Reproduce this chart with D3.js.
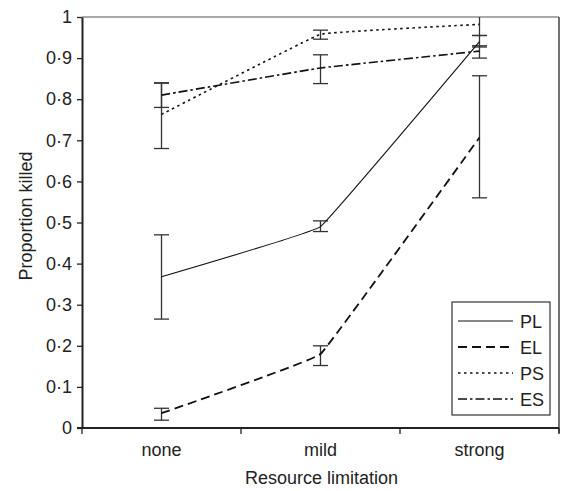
<!DOCTYPE html>
<html>
<head>
<meta charset="utf-8">
<script src="https://cdn.jsdelivr.net/npm/d3@7"></script>
<style>
  body { margin: 0; background: #fff; }
  text { font-family: "Liberation Sans", Arial, sans-serif; fill: #222; }
</style>
</head>
<body>
<script>
// categories and tick labels
const categories = ['none', 'mild', 'strong'];
const yTicks = [0, 0.1, 0.2, 0.3, 0.4, 0.5, 0.6, 0.7, 0.8, 0.9, 1];

// series values (mean, lower, upper)
const seriesNames = ['PL', 'EL', 'PS', 'ES'];
const plValues = [0.368, 0.49, 0.94];
const plLower = [0.265, 0.478, 0.927];
const plUpper = [0.47, 0.504, 0.955];
const elValues = [0.036, 0.18, 0.707];
const elLower = [0.019, 0.152, 0.56];
const elUpper = [0.048, 0.2, 0.857];
const psValues = [0.763, 0.958, 0.982];
const psLower = [0.68, 0.946, 0.955];
const psUpper = [0.839, 0.968, 1.02];
const esValues = [0.81, 0.876, 0.917];
const esLower = [0.78, 0.838, 0.9];
const esUpper = [0.84, 0.908, 0.93];

const width = 564, height = 491;
const margin = {top: 17, right: 5, bottom: 63, left: 82};
const fs = 18;

const svg = d3.select('body').append('svg')
    .attr('width', width)
    .attr('height', height);

const x = d3.scaleBand().domain(categories)
    .range([margin.left, width - margin.right]);
const y = d3.scaleLinear().domain([0, 1])
    .range([height - margin.bottom, margin.top]);

const styles = [
    {dash: null, w: 1.1},
    {dash: '9,5', w: 1.8},
    {dash: '2.5,3.5', w: 1.6},
    {dash: '9,3,2.5,3', w: 1.6}
];
const series = [
    {v: plValues, lo: plLower, hi: plUpper},
    {v: elValues, lo: elLower, hi: elUpper},
    {v: psValues, lo: psLower, hi: psUpper},
    {v: esValues, lo: esLower, hi: esUpper}
].map((s, i) => Object.assign(s, {name: seriesNames[i]}, styles[i]));

const plot = svg.append('g');
svg.append('clipPath').attr('id', 'clip')
    .append('rect')
    .attr('x', margin.left).attr('y', margin.top)
    .attr('width', width - margin.right - margin.left)
    .attr('height', height - margin.bottom - margin.top);

// 上框线 / 右框线
plot.append('line')
    .attr('x1', margin.left).attr('x2', width - margin.right)
    .attr('y1', margin.top).attr('y2', margin.top)
    .attr('stroke', '#555').attr('stroke-width', 1.2);
plot.append('line')
    .attr('x1', width - margin.right).attr('x2', width - margin.right)
    .attr('y1', margin.top).attr('y2', height - margin.bottom + 5)
    .attr('stroke', '#444').attr('stroke-width', 1.5);

const cx = c => x(c) + x.bandwidth() / 2;

// 轻微平滑
const line = d3.line()
    .x((d, i) => cx(categories[i]))
    .y(d => y(d))
    .curve(d3.curveCardinal.tension(0.85));

const marks = plot.append('g').attr('clip-path', 'url(#clip)');

// error bars
series.forEach(s => {
    categories.forEach((c, i) => {
        const g = marks.append('g').attr('stroke', '#333').attr('stroke-width', 1.3);
        g.append('line')
            .attr('x1', cx(c)).attr('x2', cx(c))
            .attr('y1', y(s.lo[i])).attr('y2', y(s.hi[i]));
        [s.lo[i], s.hi[i]].forEach(e => {
            g.append('line')
                .attr('x1', cx(c) - 7.5).attr('x2', cx(c) + 7.5)
                .attr('y1', y(e)).attr('y2', y(e));
        });
    });
});

// lines
series.forEach(s => {
    marks.append('path')
        .datum(s.v)
        .attr('d', line)
        .attr('fill', 'none')
        .attr('stroke', '#111')
        .attr('stroke-width', s.w)
        .attr('stroke-dasharray', s.dash);
});

// y axis
const yAxis = svg.append('g')
    .attr('transform', `translate(${margin.left},0)`)
    .call(d3.axisLeft(y).tickValues(yTicks).tickSize(5).tickSizeOuter(0)
        .tickFormat(d => d === 0 ? '0' : d === 1 ? '1' : d3.format('.1f')(d).replace('.', '·')));
yAxis.select('.domain').attr('stroke', '#222').attr('stroke-width', 2);
yAxis.selectAll('.tick line').attr('stroke', '#222').attr('stroke-width', 1.3);
yAxis.selectAll('.tick text').attr('font-size', fs).attr('x', -10).attr('fill', '#222');

// x axis
const bounds = [margin.left, x('mild'), x('strong'), width - margin.right];
const xAxis = svg.append('g')
    .attr('transform', `translate(0,${height - margin.bottom})`);
xAxis.append('line')
    .attr('x1', margin.left - 5).attr('x2', width - margin.right)
    .attr('stroke', '#222').attr('stroke-width', 2);
xAxis.selectAll('line.tk').data(bounds).enter().append('line')
    .attr('class', 'tk')
    .attr('x1', d => d).attr('x2', d => d)
    .attr('y1', 0).attr('y2', 6)
    .attr('stroke', '#222').attr('stroke-width', 1.3);
xAxis.selectAll('text.lbl').data(categories).enter().append('text')
    .attr('class', 'lbl')
    .attr('x', d => cx(d)).attr('y', 28)
    .attr('text-anchor', 'middle')
    .attr('font-size', fs)
    .text(d => d);

// axis titles
svg.append('text')
    .attr('x', (margin.left + width - margin.right) / 2 + 1)
    .attr('y', 484)
    .attr('text-anchor', 'middle')
    .attr('font-size', fs)
    .text('Resource limitation');
svg.append('text')
    .attr('transform', `translate(32,216) rotate(-90)`)
    .attr('text-anchor', 'middle')
    .attr('font-size', fs)
    .text('Proportion killed');

// legend
const legend = svg.append('g').attr('transform', 'translate(452,302)');
legend.append('rect')
    .attr('width', 98).attr('height', 113)
    .attr('fill', '#fff').attr('stroke', '#333').attr('stroke-width', 1.2);
series.forEach((s, i) => {
    const ly = 19 + i * 26;
    legend.append('line')
        .attr('x1', 6).attr('x2', 61)
        .attr('y1', ly).attr('y2', ly)
        .attr('stroke', '#111').attr('stroke-width', s.w)
        .attr('stroke-dasharray', s.dash);
    legend.append('text')
        .attr('x', 68).attr('y', ly + 6.5)
        .attr('font-size', fs)
        .text(s.name);
});
</script>
</body>
</html>
